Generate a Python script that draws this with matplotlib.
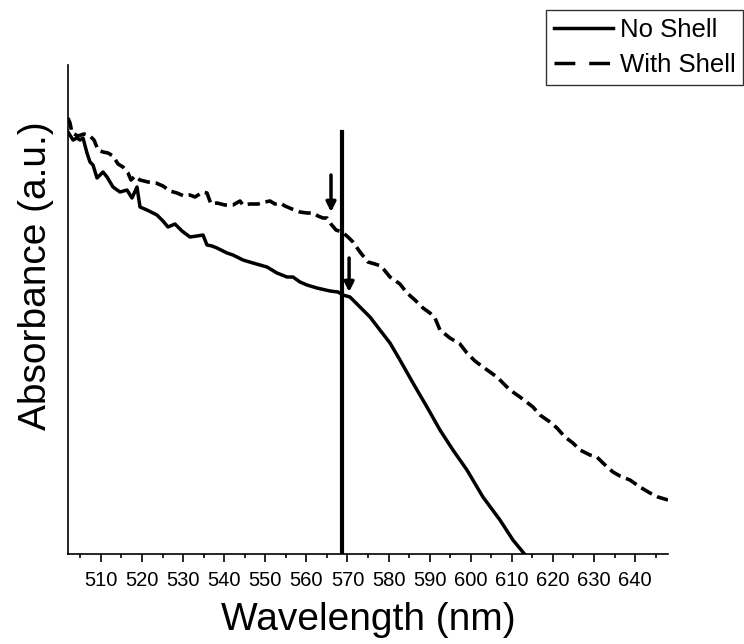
import matplotlib
matplotlib.use('Agg')
import matplotlib.pyplot as plt
from matplotlib.lines import Line2D
from matplotlib.ticker import MultipleLocator

plt.rcParams['font.family'] = ['Liberation Sans', 'DejaVu Sans']

# No Shell spectrum
wl_no_shell = [502.00, 503.22, 504.19, 504.92, 505.65, 506.62, 507.35, 508.08, 509.06, 510.52,
               511.49, 512.95, 514.65, 516.36, 517.57, 518.79, 519.52, 521.22, 523.65, 525.11,
               526.33, 528.03, 529.74, 531.68, 533.39, 534.85, 535.82, 537.04, 538.25, 540.69,
               542.14, 544.58, 547.01, 548.72, 550.42, 552.85, 555.29, 556.74, 558.45, 560.15,
               562.58, 565.75, 567.69, 568.91, 570.61, 573.05, 575.48, 577.91, 580.35, 582.78,
               585.94, 589.35, 592.51, 595.67, 599.08, 602.97, 607.11, 610.27, 613.68]
abs_no_shell = [4.22, 4.14, 4.16, 4.14, 4.16, 4.01, 3.92, 3.89, 3.76, 3.82,
                3.77, 3.67, 3.62, 3.64, 3.56, 3.67, 3.47, 3.44, 3.39, 3.33,
                3.27, 3.30, 3.23, 3.17, 3.18, 3.19, 3.09, 3.08, 3.06, 3.01,
                2.99, 2.94, 2.91, 2.89, 2.87, 2.81, 2.77, 2.77, 2.72, 2.69,
                2.66, 2.63, 2.62, 2.59, 2.57, 2.47, 2.37, 2.24, 2.11, 1.94,
                1.71, 1.47, 1.24, 1.04, 0.84, 0.57, 0.34, 0.14, -0.03]

# With Shell spectrum
wl_shell = [502.00, 502.49, 502.97, 504.43, 505.89, 507.35, 508.33, 509.30, 510.52, 511.73,
            512.95, 514.17, 515.38, 516.60, 517.33, 518.30, 519.52, 521.46, 523.41, 525.11,
            526.82, 528.52, 530.22, 531.68, 532.90, 534.85, 535.82, 536.79, 538.25, 540.20,
            542.14, 543.85, 544.58, 546.28, 548.23, 549.93, 551.15, 552.36, 553.58, 554.80,
            556.50, 558.45, 560.15, 561.61, 562.83, 564.04, 565.02, 565.99, 567.21, 568.67,
            570.13, 571.34, 573.05, 574.99, 576.70, 578.16, 580.35, 582.78, 584.48, 586.43,
            588.38, 590.08, 591.30, 592.51, 594.94, 597.38, 599.08, 601.03, 602.97, 604.68,
            606.38, 607.84, 609.54, 611.98, 615.14, 616.84, 619.28, 620.98, 622.93, 624.87,
            626.58, 629.01, 630.71, 632.17, 634.60, 636.31, 638.74, 641.17, 643.61, 645.55,
            647.99]
abs_shell = [4.36, 4.31, 4.21, 4.18, 4.20, 4.18, 4.14, 4.04, 4.02, 4.01,
             3.98, 3.90, 3.87, 3.81, 3.74, 3.78, 3.74, 3.72, 3.71, 3.68,
             3.63, 3.61, 3.58, 3.59, 3.57, 3.62, 3.61, 3.50, 3.51, 3.49,
             3.49, 3.53, 3.49, 3.50, 3.50, 3.52, 3.53, 3.50, 3.51, 3.48,
             3.45, 3.42, 3.41, 3.41, 3.38, 3.36, 3.36, 3.30, 3.24, 3.22,
             3.17, 3.12, 3.02, 2.92, 2.90, 2.88, 2.77, 2.70, 2.61, 2.54,
             2.46, 2.41, 2.36, 2.24, 2.16, 2.10, 2.01, 1.93, 1.87, 1.82,
             1.77, 1.71, 1.64, 1.57, 1.47, 1.39, 1.32, 1.26, 1.17, 1.11,
             1.04, 0.99, 0.97, 0.91, 0.82, 0.78, 0.74, 0.67, 0.61, 0.57,
             0.54]

# marker line and the two arrows (x, y_start, y_end)
vline_x = 568.67
vline_top = 4.22
arrow_shell = (566.0, 3.79, 3.42)
arrow_no_shell = (570.4, 2.96, 2.62)

fig = plt.figure(figsize=(7.44, 6.44), dpi=100)
ax = fig.add_axes([68 / 744, 90 / 644, 600 / 744, 489 / 644])

ax.plot(wl_no_shell, abs_no_shell, color='black', lw=2.5)
ax.plot(wl_shell, abs_shell, color='black', lw=2.6, linestyle=(0, (3.4, 1.6)))
ax.plot([vline_x, vline_x], [0, vline_top], color='black', lw=3)

for x, y0, y1 in [arrow_shell, arrow_no_shell]:
    ax.annotate('', xy=(x, y1), xytext=(x, y0),
                arrowprops=dict(arrowstyle='-|>', color='black', lw=2.5,
                                mutation_scale=14, shrinkA=0, shrinkB=0))

ax.set_xlim(502, 648)
ax.set_ylim(0, 4.89)
ax.xaxis.set_major_locator(MultipleLocator(10))
ax.xaxis.set_minor_locator(MultipleLocator(5))
ax.set_yticks([])
ax.spines['top'].set_visible(False)
ax.spines['right'].set_visible(False)
ax.spines['left'].set_linewidth(1.2)
ax.spines['bottom'].set_linewidth(1.2)
ax.tick_params(axis='x', which='major', direction='out', length=6, width=1.2,
               labelsize=14.5, pad=6)
ax.tick_params(axis='x', which='minor', direction='out', length=3, width=1.2)

ax.set_xlabel('Wavelength (nm)', fontsize=28, labelpad=9)
ax.set_ylabel('Absorbance (a.u.)', fontsize=28)
ax.yaxis.set_label_coords(-0.024, 0.57)

handles = [Line2D([], [], color='black', lw=2.5),
           Line2D([], [], color='black', lw=2.5, linestyle=(0, (6, 4)))]
leg = fig.legend(handles, ['No Shell', 'With Shell'], loc='upper right',
                 bbox_to_anchor=(743 / 744, 1 - 10 / 644), fontsize=18.5,
                 frameon=True, fancybox=False, handlelength=2.3,
                 handletextpad=0.25, borderpad=0.3, labelspacing=0.45,
                 borderaxespad=0)
leg.get_frame().set_edgecolor('black')
leg.get_frame().set_linewidth(1.0)

fig.savefig('out.png', dpi=100)
